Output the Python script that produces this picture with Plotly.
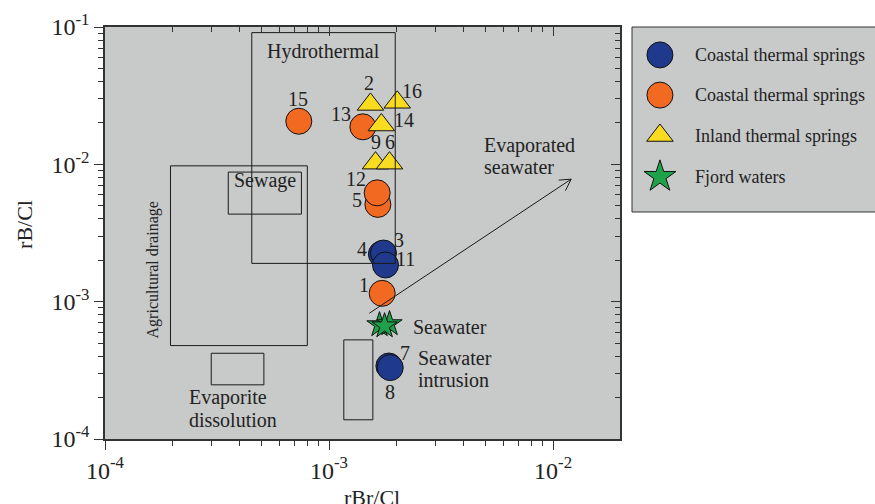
import numpy as np
import plotly.graph_objects as go

SERIF = "Liberation Serif, Times New Roman, serif"
INK = "#222222"

# ---------------- data ----------------
blue_ids = ["4", "3", "11", "7", "8"]
blue_br = [1.713e-3, 1.75e-3, 1.787e-3, 1.85e-3, 1.876e-3]
blue_b = [2.22e-3, 2.26e-3, 1.85e-3, 3.40e-4, 3.31e-4]

orange_ids = ["15", "13", "5", "12", "1"]
orange_br = [7.33e-4, 1.416e-3, 1.652e-3, 1.64e-3, 1.727e-3]
orange_b = [0.0206, 0.01875, 5.11e-3, 6.2e-3, 1.15e-3]

tri_ids = ["2", "16", "14", "9", "6"]
tri_br = [1.531e-3, 2.016e-3, 1.713e-3, 1.613e-3, 1.862e-3]
tri_b = [0.0273, 0.0283, 0.01934, 0.0102, 0.0102]

fjord_br = [1.68e-3, 1.862e-3, 1.77e-3]
fjord_b = [6.77e-4, 6.89e-4, 6.65e-4]

series_names = ["Coastal thermal springs", "Coastal thermal springs",
                "Inland thermal springs", "Fjord waters"]

# reference fields (rBr/Cl range, rB/Cl range)
box_x0 = [4.52e-4, 1.96e-4, 3.55e-4, 2.98e-4, 1.164e-3]
box_x1 = [1.975e-3, 8.0e-4, 7.53e-4, 5.12e-4, 1.569e-3]
box_y0 = [1.9e-3, 4.79e-4, 4.34e-3, 2.48e-4, 1.38e-4]
box_y1 = [0.091, 9.75e-3, 8.78e-3, 4.21e-4, 5.27e-4]

# evaporated seawater trend arrow (start, end)
arrow_br = [1.49e-3, 1.205e-2]
arrow_b = [8.1e-4, 7.8e-3]

x_tick_vals = [1e-4, 1e-3, 1e-2]
x_tick_text = ["10<sup>-4</sup>", "10<sup>-3</sup>", "10<sup>-2</sup>"]
y_tick_vals = [1e-4, 1e-3, 1e-2, 1e-1]
y_tick_text = ["10<sup>-4</sup>", "10<sup>-3</sup>", "10<sup>-2</sup>", "10<sup>-1</sup>"]

# ---------------- styles ----------------
BLUE = "#1f3a8c"
ORANGE = "#f26a22"
YELLOW = "#f9dc1f"
GREEN = "#1fa14a"
BG = "#c8c9c9"

X_RANGE = [-4, np.log10(0.0199)]
Y_RANGE = [-4, -1]
minor_x = [m * d for d in x_tick_vals for m in range(2, 10) if m * d < 0.0199]
minor_y = [m * d for d in y_tick_vals[:-1] for m in range(2, 10)]

# pixel offsets of number labels relative to their point (dx right, dy down)
label_offsets = {
    "15": (-1, -22), "13": (-22, -13), "2": (-1, -21), "16": (15, -11),
    "14": (23, -5), "9": (0, -21), "6": (0, -21), "12": (-21, -14),
    "5": (-21, -4), "3": (16, -13), "4": (-19, -5), "11": (20, -6),
    "1": (-18, -8), "7": (16, -13), "8": (0, 24),
}

fig = go.Figure()
mline = dict(color="#111111", width=1)

fig.add_trace(go.Scatter(x=orange_br, y=orange_b, mode="markers", name=series_names[1],
                         marker=dict(symbol="circle", size=26, color=ORANGE, line=mline, opacity=1)))
fig.add_trace(go.Scatter(x=blue_br, y=blue_b, mode="markers", name=series_names[0],
                         marker=dict(symbol="circle", size=26, color=BLUE, line=mline, opacity=1)))
fig.add_trace(go.Scatter(x=tri_br, y=tri_b, mode="markers", name=series_names[2],
                         marker=dict(symbol="triangle-up", size=23, color=YELLOW, line=mline, opacity=1)))
fig.add_trace(go.Scatter(x=fjord_br, y=fjord_b, mode="markers", name=series_names[3],
                         marker=dict(symbol="star", size=19, color=GREEN, line=mline, opacity=1)))

# reference field boxes
for x0, x1, y0, y1 in zip(box_x0, box_x1, box_y0, box_y1):
    fig.add_trace(go.Scatter(x=[x0, x1, x1, x0, x0], y=[y0, y0, y1, y1, y0], mode="lines",
                             line=dict(color="#1a1a1a", width=1), hoverinfo="skip"))

# empty traces to register mirrored tick axes
fig.add_trace(go.Scatter(x=[], y=[], xaxis="x2", yaxis="y"))
fig.add_trace(go.Scatter(x=[], y=[], xaxis="x", yaxis="y2"))

# legend markers (manual legend)
leg_y = [0.849, 0.632, 0.4135, 0.191]
fig.add_trace(go.Scatter(
    x=[0.115] * 4, y=leg_y, xaxis="x3", yaxis="y3", mode="markers",
    marker=dict(symbol=["circle", "circle", "triangle-up", "star"],
                size=[26, 26, 23, 24], color=[BLUE, ORANGE, YELLOW, GREEN], line=mline,
                opacity=1),
    hoverinfo="skip"))

annotations = []
lab_font = dict(family=SERIF, size=20, color=INK)
for ids, xs, ys in [(orange_ids, orange_br, orange_b), (blue_ids, blue_br, blue_b),
                    (tri_ids, tri_br, tri_b)]:
    for i, xv, yv in zip(ids, xs, ys):
        dx, dy = label_offsets[i]
        annotations.append(dict(x=np.log10(xv), y=np.log10(yv), xref="x", yref="y", text=i,
                                showarrow=False, xshift=dx, yshift=-dy, font=lab_font,
                                xanchor="center", yanchor="middle"))

# field labels
def field(text, xl, yl, anchor="left", angle=0, size=20):
    annotations.append(dict(x=xl, y=yl, xref="x", yref="y", text=text, showarrow=False,
                            xanchor=anchor, yanchor="middle", textangle=angle,
                            font=dict(family=SERIF, size=size, color=INK)))

field("Hydrothermal", -3.288, -1.182)
field("Sewage", -3.288, -2.115, anchor="center")
field("Agricultural drainage", -3.788, -2.769, anchor="center", angle=-90, size=16)
field("Evaporite", -3.636, -3.700)
field("dissolution", -3.636, -3.860)
field("Evaporated", -2.316, -1.860)
field("seawater", -2.316, -2.018)
field("Seawater", -2.636, -3.186)
field("Seawater", -2.611, -3.412)
field("intrusion", -2.611, -3.569)

# arrow shaft and open head
tip_x, tip_y = np.log10(arrow_br[1]), np.log10(arrow_b[1])
annotations.append(dict(x=tip_x, y=tip_y, xref="x", yref="y", ax=np.log10(arrow_br[0]),
                        ay=np.log10(arrow_b[0]), axref="x", ayref="y", text="", showarrow=True,
                        arrowhead=0, arrowwidth=1, arrowcolor="#1a1a1a", standoff=0))
for ax_, ay_ in [(-13, 1), (-6, 12)]:
    annotations.append(dict(x=tip_x, y=tip_y, xref="x", yref="y", ax=ax_, ay=ay_, text="",
                            showarrow=True, arrowhead=0, arrowwidth=1, arrowcolor="#1a1a1a",
                            standoff=0, borderpad=0))

# legend texts
for name, yy in zip(series_names, leg_y):
    annotations.append(dict(x=0.251, y=yy, xref="x3", yref="y3", text=name, showarrow=False,
                            xanchor="left", yanchor="middle",
                            font=dict(family=SERIF, size=18, color=INK)))

# axis titles
annotations.append(dict(x=0.3468, y=-0.1408, xref="paper", yref="paper", text="rBr/Cl",
                        showarrow=False, xanchor="center", yanchor="middle",
                        font=dict(family=SERIF, size=22, color=INK)))
annotations.append(dict(x=-0.1039, y=0.522, xref="paper", yref="paper", text="rB/Cl",
                        showarrow=False, textangle=-90, xanchor="center", yanchor="middle",
                        font=dict(family=SERIF, size=22, color=INK)))

tickfont = dict(family=SERIF, size=24, color=INK)
axis_common = dict(type="log", showgrid=False, zeroline=False, showline=True,
                   linecolor="#333333", linewidth=1.5, mirror=True, ticks="outside",
                   ticklen=9, tickwidth=1, tickcolor="#333333", tickfont=tickfont)

fig.update_layout(
    width=875, height=504,
    margin=dict(l=105, r=0, t=27, b=65),
    paper_bgcolor="white", plot_bgcolor=BG, showlegend=False,
    xaxis=dict(**axis_common, domain=[0, 515 / 770], range=X_RANGE,
               tickvals=x_tick_vals, ticktext=x_tick_text,
               minor=dict(tickvals=minor_x, ticks="outside", ticklen=5, tickcolor="#333333")),
    yaxis=dict(**axis_common, domain=[0, 1], range=Y_RANGE,
               tickvals=y_tick_vals, ticktext=y_tick_text,
               minor=dict(tickvals=minor_y, ticks="outside", ticklen=5, tickcolor="#333333")),
    xaxis2=dict(type="log", overlaying="x", side="top", anchor="y", range=X_RANGE,
                showgrid=False, zeroline=False, showline=False, showticklabels=False,
                tickvals=x_tick_vals, ticks="inside", ticklen=9, tickcolor="#333333",
                minor=dict(tickvals=minor_x, ticks="inside", ticklen=5, tickcolor="#333333")),
    yaxis2=dict(type="log", overlaying="y", side="right", anchor="x", range=Y_RANGE,
                showgrid=False, zeroline=False, showline=False, showticklabels=False,
                tickvals=y_tick_vals, ticks="inside", ticklen=9, tickcolor="#333333",
                minor=dict(tickvals=minor_y, ticks="inside", ticklen=5, tickcolor="#333333")),
    xaxis3=dict(domain=[527 / 770, 1], range=[0, 1], anchor="y3", visible=False, fixedrange=True),
    yaxis3=dict(domain=[0.551, 1], range=[0, 1], anchor="x3", visible=False, fixedrange=True),
    shapes=[dict(type="rect", xref="paper", yref="paper", x0=527 / 770, x1=1.01, y0=0.551, y1=1.0,
                 line=dict(color="#333333", width=1), fillcolor="rgba(0,0,0,0)", layer="below")],
    annotations=annotations,
)

fig.write_html("out.html")
